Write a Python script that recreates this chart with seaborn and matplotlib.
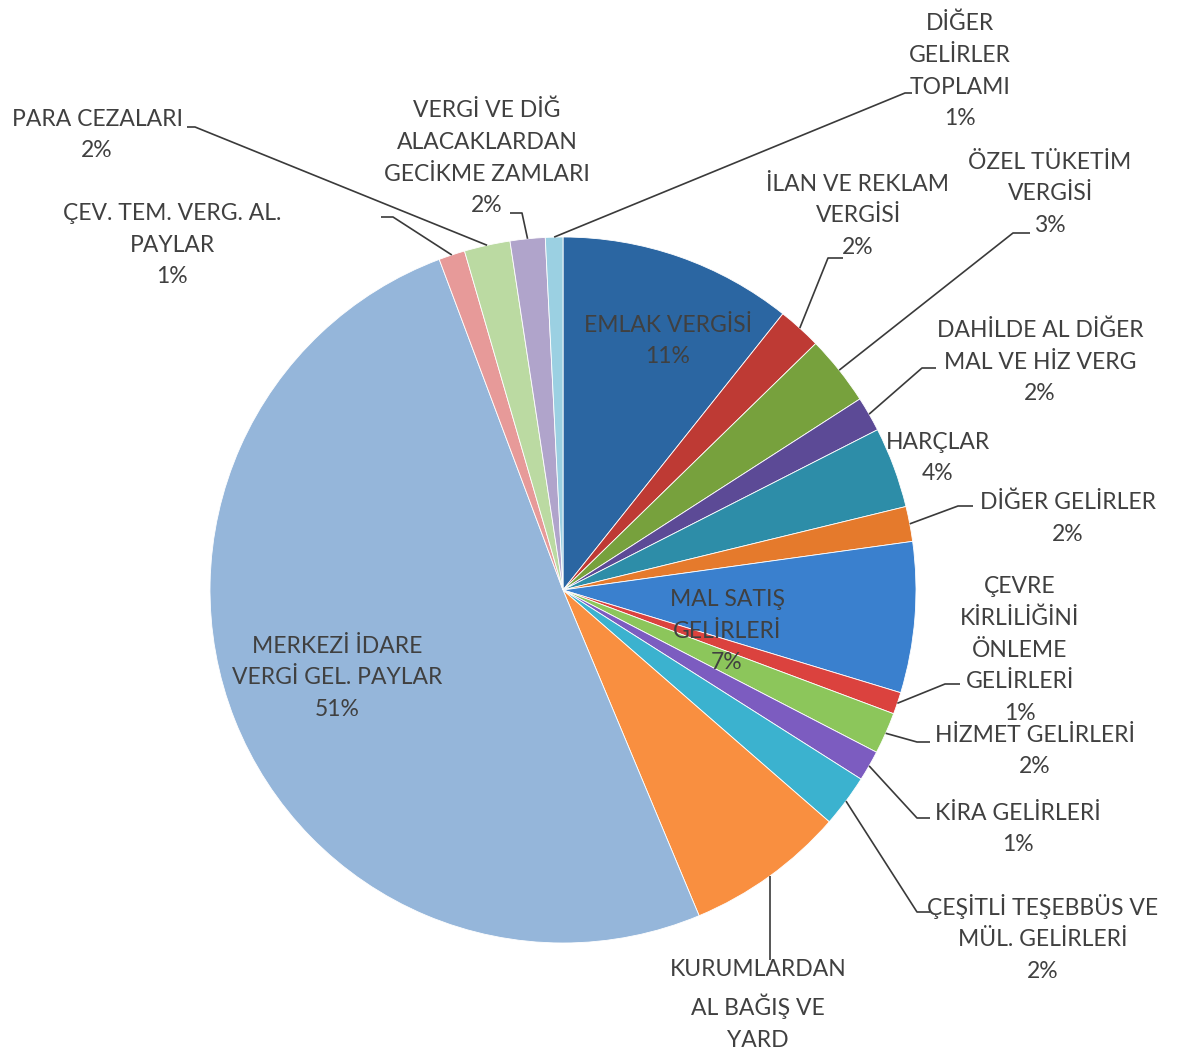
import numpy as np
import matplotlib
matplotlib.use("Agg")
import matplotlib.pyplot as plt
import seaborn as sns

# Revenue breakdown (share of total, %)
categories = [
    "EMLAK VERGİSİ",
    "İLAN VE REKLAM\nVERGİSİ",
    "ÖZEL TÜKETİM\nVERGİSİ",
    "DAHİLDE AL DİĞER\nMAL VE HİZ VERG",
    "HARÇLAR",
    "DİĞER GELİRLER",
    "MAL SATIŞ\nGELİRLERİ",
    "ÇEVRE\nKİRLİLİĞİNİ\nÖNLEME\nGELİRLERİ",
    "HİZMET GELİRLERİ",
    "KİRA GELİRLERİ",
    "ÇEŞİTLİ TEŞEBBÜS VE\nMÜL. GELİRLERİ",
    "KURUMLARDAN\nAL BAĞIŞ VE\nYARD",
    "MERKEZİ İDARE\nVERGİ GEL. PAYLAR",
    "ÇEV. TEM. VERG. AL.\nPAYLAR",
    "PARA CEZALARI",
    "VERGİ VE DİĞ\nALACAKLARDAN\nGECİKME ZAMLARI",
    "DİĞER\nGELİRLER\nTOPLAMI",
]
shares = [10.7, 2.0, 3.2, 1.6, 3.7, 1.6, 6.9, 1.0, 1.9, 1.4, 2.4, 7.3,
          50.6, 1.2, 2.1, 1.6, 0.8]
# The percentage line of this label runs past the bottom edge, so it is left off
show_pct = [True] * 11 + [False] + [True] * 5

colors = ["#2B66A2", "#BE3A34", "#77A13D", "#5C4A96", "#2D8DA8", "#E57A2C",
          "#3A80CE", "#DB423E", "#8CC65B", "#7C5CC0", "#3BB2CF", "#F98F40",
          "#95B6DA", "#E79A99", "#BBDAA2", "#B0A4CB", "#9BD0E2"]

# Label layout (pixel space, y measured from the top)
label_xy = [(668, 341), (858, 216), (1050, 194), (1040, 362), (938, 458),
            (1068, 518), (727, 631), (1020, 650), (1035, 751), (1018, 829),
            (1043, 938), (758, 1005), (337, 678), (172, 245), (97, 135),
            (487, 158), (960, 71)]
# Leader-line bends (from pie edge to label); None = label without leader
leaders = [None,
           [(828, 258), (843, 258)],
           [(1013, 233), (1030, 233)],
           [(922, 368), (936, 368)],
           None,
           [(958, 506), (973, 506)],
           None,
           [(945, 684), (960, 684)],
           [(917, 742), (930, 742)],
           [(917, 818), (930, 818)],
           [(917, 912), (930, 912)],
           "down",
           None,
           [(393, 217), (381, 217)],
           [(195, 127), (187, 127)],
           [(522, 213), (510, 213)],
           [(905, 93), (912, 93)]]

W, H = 1180, 1053
CX, CY, R = 563, 590, 353

sns.set_theme(style="white")
plt.rcParams["font.family"] = ["Lato", "DejaVu Sans"]

fig = plt.figure(figsize=(W / 100, H / 100), dpi=100)
ax = fig.add_axes([0, 0, 1, 1])

def fy(y):
    return H - y

wedges, _ = ax.pie(shares, colors=colors, startangle=90, counterclock=False,
                   center=(CX, fy(CY)), radius=R,
                   wedgeprops=dict(edgecolor="white", linewidth=0.6))
ax.set_xlim(0, W)
ax.set_ylim(0, H)
ax.set_aspect("equal")
ax.axis("off")

total = sum(shares)
text_color = "#404040"
for w, name, v, (tx, ty), lead, sp in zip(wedges, categories, shares,
                                          label_xy, leaders, show_pct):
    pct = int(v / total * 100 + 0.5)
    label = f"{name}\n{pct}%" if sp else name
    ax.text(tx, fy(ty), label, ha="center", va="center",
            multialignment="center", fontsize=16.5, color=text_color,
            linespacing=1.62)
    if lead is None:
        continue
    mid = np.deg2rad((w.theta1 + w.theta2) / 2)
    ax_x = CX + R * np.cos(mid)
    ax_y = fy(CY) + R * np.sin(mid)
    if lead == "down":
        xs = [ax_x, ax_x]
        ys = [ax_y, fy(960)]
    else:
        xs = [ax_x] + [p[0] for p in lead]
        ys = [ax_y] + [fy(p[1]) for p in lead]
    ax.plot(xs, ys, color="#3a3a3a", lw=1.2, solid_capstyle="butt")

fig.savefig("out.png", dpi=100, facecolor="white")
